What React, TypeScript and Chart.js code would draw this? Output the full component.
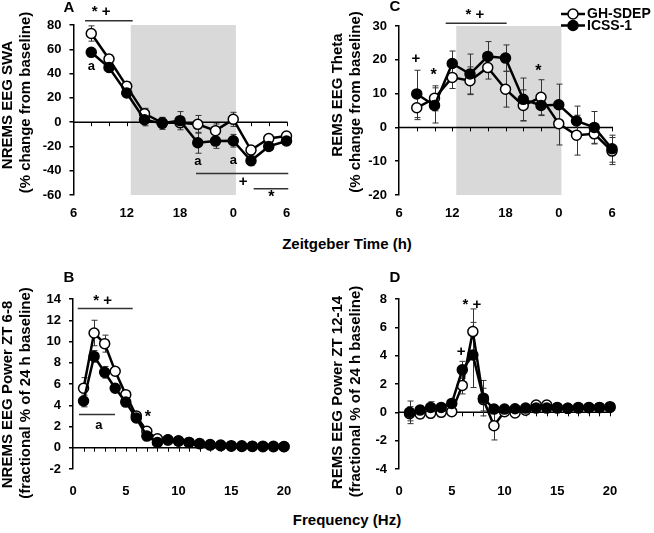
import React, { useEffect, useRef } from 'react';
import { Chart, registerables } from 'chart.js';

Chart.register(...registerables);

const FONT = '"Liberation Sans", Arial, Helvetica, sans-serif';
Chart.defaults.font.family = FONT;

// ---------- data ----------
const ztHours = [8, 10, 12, 14, 16, 18, 20, 22, 24, 26, 28, 30];
const ztTickValues = [6, 12, 18, 24, 30];
const ztTickLabels = ['6', '12', '18', '0', '6'];
const darkPhase = [12.45, 24.3];

const swaGH = [73, 52, 29.5, 7, -0.5, -0.5, -1.8, -7, 2.3, -23, -13.5, -11.5];
const swaGHErr = [6.3, 3.5, 3.6, 4.4, 4, 4, 7.3, 5.5, 5.8, 3, 2.5, 2];
const swaICSS = [57.5, 45, 24, 2, -1, 1.2, -17, -15.6, -15.3, -31.8, -20, -15.5];
const swaICSSErr = [3, 4, 3, 5, 5, 7.5, 8.6, 6, 5.2, 4, 3, 2.5];

const thetaGH = [5.8, 8.6, 14.8, 13.8, 17.7, 11.3, 6.5, 8.9, 1.1, -2.3, -1.9, -7];
const thetaGHErr = [3.5, 3.7, 3.3, 4.1, 3.4, 5.3, 4.6, 5.2, 6.3, 5.9, 3, 4];
const thetaICSS = [9.9, 6.5, 18.9, 15.8, 21, 20.5, 8.3, 6.5, 6.7, 1.9, 0, -6.3];
const thetaICSSErr = [7, 5.2, 3.7, 5.9, 4.4, 3.9, 6.3, 3, 6.1, 4.4, 4.7, 4];

const freqHz = [1, 2, 3, 4, 5, 6, 7, 8, 9, 10, 11, 12, 13, 14, 15, 16, 17, 18, 19, 20];
const freqTickStep = 5;

const nremGH = [5.6, 10.8, 9.8, 7.2, 5.0, 3.0, 1.55, 0.85, 0.75, 0.65, 0.5, 0.4, 0.3, 0.25, 0.2, 0.18, 0.15, 0.15, 0.14, 0.12];
const nremGHErr = [1.0, 1.2, 0.8, 0.35, 0.3, 0.25, 0.2, 0.15, 0.1, 0.1, 0.1, 0.1, 0.1, 0.1, 0.1, 0.1, 0.1, 0.1, 0.1, 0.1];
const nremICSS = [4.4, 8.6, 7.1, 5.6, 4.3, 2.8, 1.1, 0.5, 0.72, 0.62, 0.5, 0.38, 0.25, 0.2, 0.15, 0.12, 0.12, 0.1, 0.1, 0.1];
const nremICSSErr = [0.55, 0.55, 0.55, 0.3, 0.3, 0.2, 0.2, 0.1, 0.1, 0.1, 0.1, 0.1, 0.1, 0.1, 0.1, 0.1, 0.1, 0.1, 0.1, 0.1];

const remGH = [-0.1, -0.12, -0.07, 0.0, 0.05, 1.9, 5.7, 0.9, -0.95, 0.05, -0.05, 0.15, 0.52, 0.52, 0.3, 0.28, 0.3, 0.32, 0.33, 0.35];
const remGHErr = [0.5, 0.3, 0.2, 0.2, 0.2, 0.6, 1.6, 0.8, 1.0, 0.15, 0.15, 0.15, 0.2, 0.2, 0.1, 0.1, 0.1, 0.1, 0.1, 0.1];
const remICSS = [0.0, 0.16, 0.35, 0.35, 0.63, 3.0, 4.05, 1.0, 0.23, 0.23, 0.25, 0.3, 0.3, 0.3, 0.35, 0.28, 0.35, 0.35, 0.35, 0.4];
const remICSSErr = [0.8, 0.3, 0.4, 0.2, 0.2, 0.6, 2.3, 1.25, 0.2, 0.1, 0.1, 0.1, 0.1, 0.1, 0.1, 0.1, 0.1, 0.1, 0.1, 0.1];

const seriesNames = ['GH-SDEP', 'ICSS-1'];

// ---------- helpers ----------
type Ann = { text: string; x: number; y: number; size?: number };
type Seg = { x1: number; x2: number; y: number };
type Title = { text: string; x: number; y: number };

interface PanelCfg {
  left: number; top: number; width: number; height: number;
  area: { l: number; r: number; t: number; b: number };
  xMin: number; xMax: number; yMin: number; yMax: number; yStep: number;
  xs: number[];
  gh: number[]; ghErr: number[]; icss: number[]; icssErr: number[];
  zt: boolean;
  shade?: number[];
  zeroTicks: number[];
  labelPad: number;
  anns: Ann[];
  segs: Seg[];
  letter: Title;
  titles: Title[];
  legend?: boolean;
}

function makeDecor(cfg: PanelCfg) {
  const ox = cfg.left, oy = cfg.top;
  return {
    id: 'decor',
    beforeDatasetsDraw(chart: any) {
      const { ctx, chartArea } = chart;
      const xs = chart.scales.x, ys = chart.scales.y;
      ctx.save();
      if (cfg.shade) {
        const a = xs.getPixelForValue(cfg.shade[0]);
        const b = xs.getPixelForValue(cfg.shade[1]);
        ctx.fillStyle = '#d9d9d9';
        ctx.fillRect(a, chartArea.top, b - a, chartArea.bottom - chartArea.top);
      }
      // zero line with ticks
      const y0 = ys.getPixelForValue(0);
      ctx.strokeStyle = '#000';
      ctx.lineWidth = 1.5;
      ctx.beginPath();
      ctx.moveTo(chartArea.left, y0);
      ctx.lineTo(chartArea.right + 1, y0);
      ctx.stroke();
      ctx.lineWidth = 1;
      cfg.zeroTicks.forEach((v) => {
        const px = Math.round(xs.getPixelForValue(v)) + 0.5;
        ctx.beginPath();
        ctx.moveTo(px, y0);
        ctx.lineTo(px, y0 + 4);
        ctx.stroke();
      });
      // error bars
      ctx.strokeStyle = '#333';
      ctx.lineWidth = 1;
      chart.data.datasets.forEach((ds: any, di: number) => {
        const meta = chart.getDatasetMeta(di);
        meta.data.forEach((el: any, i: number) => {
          const v = ds.data[i].y;
          const e = ds.errors[i];
          const t = ys.getPixelForValue(v + e);
          const bt = ys.getPixelForValue(v - e);
          const x = Math.round(el.x) + 0.5;
          ctx.beginPath();
          ctx.moveTo(x, t); ctx.lineTo(x, bt);
          ctx.moveTo(x - 3, t); ctx.lineTo(x + 3, t);
          ctx.moveTo(x - 3, bt); ctx.lineTo(x + 3, bt);
          ctx.stroke();
        });
      });
      ctx.restore();
    },
    afterDatasetsDraw(chart: any) {
      const { ctx } = chart;
      const xs = chart.scales.x, ys = chart.scales.y;
      ctx.save();
      ctx.fillStyle = '#000';
      ctx.textAlign = 'center';
      ctx.textBaseline = 'middle';
      cfg.anns.forEach((a) => {
        ctx.font = `bold ${a.size || 15}px ${FONT}`;
        ctx.fillText(a.text, xs.getPixelForValue(a.x), ys.getPixelForValue(a.y));
      });
      ctx.strokeStyle = '#333';
      ctx.lineWidth = 1.5;
      cfg.segs.forEach((s) => {
        const y = ys.getPixelForValue(s.y);
        ctx.beginPath();
        ctx.moveTo(xs.getPixelForValue(s.x1), y);
        ctx.lineTo(xs.getPixelForValue(s.x2), y);
        ctx.stroke();
      });
      // panel letter
      ctx.font = `bold 15px ${FONT}`;
      ctx.fillText(cfg.letter.text, cfg.letter.x - ox, cfg.letter.y - oy);
      // y titles
      ctx.font = `bold 15px ${FONT}`;
      cfg.titles.forEach((t) => {
        ctx.save();
        ctx.translate(t.x - ox, t.y - oy);
        ctx.rotate(-Math.PI / 2);
        ctx.fillText(t.text, 0, 0);
        ctx.restore();
      });
      if (cfg.legend) {
        const items = chart.data.datasets;
        const rows = [14, 25.5];
        [0, 1].forEach((di, r) => {
          const ds = items[di];
          const y = rows[r] - oy;
          const x1 = 561 - ox, x2 = 585 - ox;
          ctx.strokeStyle = '#000';
          ctx.lineWidth = 2.5;
          ctx.beginPath();
          ctx.moveTo(x1, y); ctx.lineTo(x2, y); ctx.stroke();
          ctx.beginPath();
          ctx.arc((x1 + x2) / 2, y, 5, 0, Math.PI * 2);
          ctx.fillStyle = ds.pointBackgroundColor;
          ctx.fill();
          ctx.lineWidth = 1.5;
          ctx.stroke();
          ctx.fillStyle = '#000';
          ctx.textAlign = 'left';
          ctx.font = `bold 14px ${FONT}`;
          ctx.fillText(ds.label, x2 + 2, y + 0.5);
        });
      }
      ctx.restore();
    },
  };
}

function Panel({ cfg }: { cfg: PanelCfg }) {
  const ref = useRef<HTMLCanvasElement>(null);
  useEffect(() => {
    if (!ref.current) return;
    const mk = (vals: number[], err: number[], i: number, filled: boolean) => ({
      label: seriesNames[i],
      data: cfg.xs.map((x, k) => ({ x, y: vals[k] })),
      errors: err,
      borderColor: '#000',
      borderWidth: 2.5,
      pointRadius: 5,
      pointBackgroundColor: filled ? '#000' : '#fff',
      pointBorderColor: '#000',
      pointBorderWidth: 1.5,
      tension: 0,
      clip: false,
      order: filled ? 0 : 1,
    });
    const a = cfg.area;
    const chart = new Chart(ref.current, {
      type: 'line',
      data: {
        datasets: [mk(cfg.gh, cfg.ghErr, 0, false), mk(cfg.icss, cfg.icssErr, 1, true)] as any,
      },
      options: {
        animation: false,
        responsive: false,
        maintainAspectRatio: false,
        devicePixelRatio: 1,
        layout: { padding: { left: 0, top: a.t, right: cfg.width - a.r, bottom: 0 } },
        plugins: { legend: { display: false }, tooltip: { enabled: false }, title: { display: false } },
        scales: {
          x: {
            type: 'linear',
            min: cfg.xMin,
            max: cfg.xMax,
            border: { display: false },
            grid: { display: false, drawTicks: false },
            afterFit: (s: any) => { s.height = cfg.height - a.b; },
            afterBuildTicks: cfg.zt
              ? (s: any) => { s.ticks = ztTickValues.map((v) => ({ value: v })); }
              : undefined,
            ticks: {
              stepSize: freqTickStep,
              padding: cfg.labelPad,
              maxRotation: 0,
              autoSkip: false,
              color: '#000',
              font: { size: 13, weight: 'bold' },
              callback: cfg.zt ? (v: any, i: number) => ztTickLabels[i] : (v: any) => String(v),
            },
          },
          y: {
            min: cfg.yMin,
            max: cfg.yMax,
            border: { display: true, color: '#000', width: 1.5 },
            grid: { drawOnChartArea: false, drawTicks: true, tickLength: 4, color: '#000', lineWidth: 1.5 },
            afterFit: (s: any) => { s.width = a.l; },
            ticks: {
              stepSize: cfg.yStep,
              padding: 8,
              color: '#000',
              font: { size: 13, weight: 'bold' },
            },
          },
        },
      } as any,
      plugins: [makeDecor(cfg)],
    });
    return () => chart.destroy();
  }, []);
  return (
    <canvas
      ref={ref}
      width={cfg.width}
      height={cfg.height}
      style={{ position: 'absolute', left: cfg.left, top: cfg.top, width: cfg.width, height: cfg.height }}
    />
  );
}

const panelA: PanelCfg = {
  left: 0, top: 0, width: 327, height: 230,
  area: { l: 73.5, r: 286.5, t: 25, b: 195 },
  xMin: 6, xMax: 30, yMin: -60, yMax: 80, yStep: 20,
  xs: ztHours, gh: swaGH, ghErr: swaGHErr, icss: swaICSS, icssErr: swaICSSErr,
  zt: true, shade: darkPhase, zeroTicks: ztHours, labelPad: 10.5,
  anns: [
    { text: '* +', x: 9.1, y: 91, size: 15 },
    { text: 'a', x: 8, y: 45.6, size: 13 },
    { text: 'a', x: 20, y: -32.5, size: 13 },
    { text: 'a', x: 24, y: -31.5, size: 13 },
    { text: '+', x: 25.1, y: -49, size: 15 },
    { text: '*', x: 28.3, y: -62, size: 16 },
  ],
  segs: [
    { x1: 7.3, x2: 12.67, y: 83.5 },
    { x1: 19.8, x2: 30.2, y: -42.2 },
    { x1: 26.3, x2: 30.2, y: -54.8 },
  ],
  letter: { text: 'A', x: 69, y: 8 },
  titles: [
    { text: 'NREMS EEG SWA', x: 8, y: 105 },
    { text: '(% change from baseline)', x: 26, y: 102.5 },
  ],
};

const panelC: PanelCfg = {
  left: 327, top: 0, width: 327, height: 230,
  area: { l: 72, r: 285, t: 26, b: 195 },
  xMin: 6, xMax: 30, yMin: -20, yMax: 30, yStep: 5,
  xs: ztHours, gh: thetaGH, ghErr: thetaGHErr, icss: thetaICSS, icssErr: thetaICSSErr,
  zt: true, shade: darkPhase, zeroTicks: ztHours, labelPad: 10.5,
  anns: [
    { text: '* +', x: 14.56, y: 33.3, size: 15 },
    { text: '+', x: 7.9, y: 20.4, size: 15 },
    { text: '*', x: 9.9, y: 15.4, size: 16 },
    { text: '*', x: 21.7, y: 16.6, size: 16 },
  ],
  segs: [{ x1: 11.26, x2: 18.13, y: 30.8 }],
  letter: { text: 'C', x: 395, y: 7 },
  titles: [
    { text: 'REMS EEG Theta', x: 338, y: 95 },
    { text: '(% change from baseline)', x: 356, y: 102 },
  ],
  legend: true,
};

const panelB: PanelCfg = {
  left: 0, top: 262, width: 327, height: 243,
  area: { l: 73, r: 284, t: 37, b: 207 },
  xMin: 0, xMax: 20, yMin: -2, yMax: 14, yStep: 2,
  xs: freqHz, gh: nremGH, ghErr: nremGHErr, icss: nremICSS, icssErr: nremICSSErr,
  zt: false, zeroTicks: freqHz, labelPad: 15,
  anns: [
    { text: '* +', x: 2.8, y: 13.8, size: 15 },
    { text: 'a', x: 2.46, y: 2.1, size: 13 },
    { text: '*', x: 7.1, y: 2.8, size: 16 },
  ],
  segs: [
    { x1: 0.45, x2: 5.66, y: 13.1 },
    { x1: 0.57, x2: 3.98, y: 3.13 },
  ],
  letter: { text: 'B', x: 69, y: 278 },
  titles: [
    { text: 'NREMS EEG Power ZT 6-8', x: 8, y: 394.5 },
    { text: '(fractional % of 24 h baseline)', x: 26, y: 393 },
  ],
};

const panelD: PanelCfg = {
  left: 327, top: 262, width: 327, height: 243,
  area: { l: 72, r: 283, t: 37, b: 207 },
  xMin: 0, xMax: 20, yMin: -4, yMax: 8, yStep: 2,
  xs: freqHz, gh: remGH, ghErr: remGHErr, icss: remICSS, icssErr: remICSSErr,
  zt: false, zeroTicks: freqHz, labelPad: 15,
  anns: [
    { text: '* +', x: 6.9, y: 7.6, size: 15 },
    { text: '+', x: 5.9, y: 4.3, size: 15 },
  ],
  segs: [],
  letter: { text: 'D', x: 395, y: 278 },
  titles: [
    { text: 'REMS EEG Power ZT 12-14', x: 338, y: 392.5 },
    { text: '(fractional % of 24 h baseline)', x: 356, y: 391.5 },
  ],
};

const xTitleStyle: React.CSSProperties = {
  position: 'absolute',
  transform: 'translate(-50%, -50%)',
  font: `bold 15px ${FONT}`,
  color: '#000',
  whiteSpace: 'nowrap',
};

export default function App() {
  return (
    <div style={{ position: 'absolute', left: 0, top: 0, width: 654, height: 533, background: '#fff', overflow: 'hidden' }}>
      <Panel cfg={panelA} />
      <Panel cfg={panelC} />
      <Panel cfg={panelB} />
      <Panel cfg={panelD} />
      <div style={{ ...xTitleStyle, left: 347, top: 243 }}>Zeitgeber Time (h)</div>
      <div style={{ ...xTitleStyle, left: 347, top: 519 }}>Frequency (Hz)</div>
    </div>
  );
}
